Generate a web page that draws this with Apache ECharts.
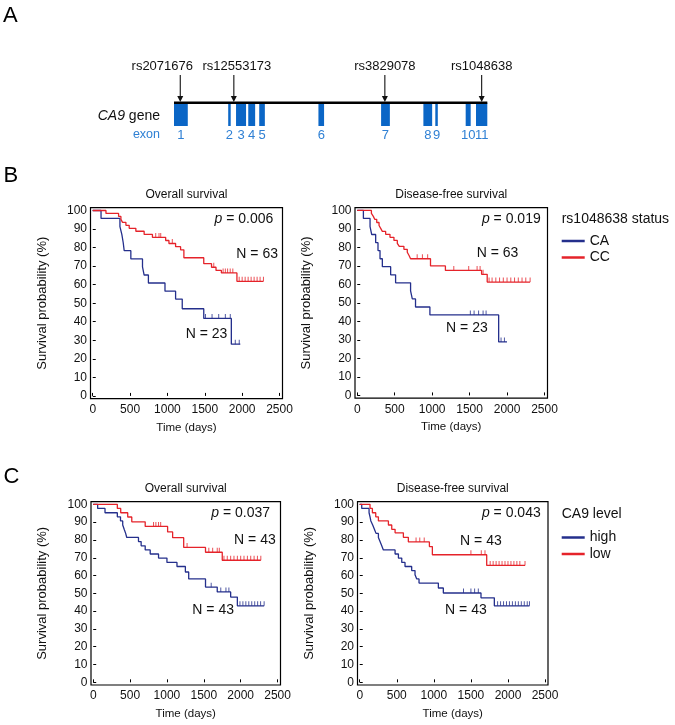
<!DOCTYPE html>
<html><head><meta charset="utf-8">
<script src="https://cdn.jsdelivr.net/npm/echarts@6/dist/echarts.min.js"></script>
<style>html,body{margin:0;padding:0;background:#fff}#c{width:675px;height:725px}</style>
</head><body><div id="c"></div>
<script>
// ---------- Panel A data (gene coordinates, % of gene length) ----------
const exonStart = [0, 17.3, 19.8, 23.7, 27.2, 46.1, 66.1, 79.6, 83.4, 93.1, 96.4];
const exonEnd   = [4.4, 18.1, 23.0, 25.9, 29.0, 47.9, 68.9, 82.4, 84.2, 94.7, 100];
const exonLabels = ['1','2','3','4','5','6','7','8','9','10','11'];
const snpNames = ['rs2071676','rs12553173','rs3829078','rs1048638'];
const snpPos = [2.0, 19.1, 67.3, 98.2];

// ---------- Axis ticks ----------
const xTicks = [0, 500, 1000, 1500, 2000, 2500];
const yTicks = [0, 10, 20, 30, 40, 50, 60, 70, 80, 90, 100];

// ---------- Panel B: rs1048638 status ----------
const bOsCA = [[0,100],[111,95.7],[364,91.3],[390,87.0],[408,82.6],[421,78.3],[510,73.9],[666,69.6],[688,65.2],[745,60.9],[967,56.5],[1109,52.2],[1198,47.0],[1486,41.8],[1855,27.9],[1975,27.9]];
const bOsCAcens = [1509,1597,1686,1775,1841,1908,1961];
const bOsCC = [[0,100],[177,98.4],[346,96.8],[377,95.2],[399,93.6],[444,92.0],[488,90.4],[577,88.8],[688,87.1],[799,85.5],[976,83.8],[1020,82.2],[1109,80.5],[1176,78.8],[1220,74.5],[1486,71.3],[1590,69.4],[1650,67.7],[1722,66.3],[1930,61.8],[2285,61.8]];
const bOsCCcens = [843,887,910,1065,1620,1745,1775,1805,1840,1875,1960,2000,2040,2080,2120,2160,2200,2240,2285];

const bDfsCA = [[0,100],[82,95.7],[171,91.3],[193,87.0],[246,82.6],[277,78.3],[304,73.9],[335,69.6],[446,65.2],[512,60.9],[712,56.5],[735,52.2],[778,47.8],[970,43.5],[1888,28.9],[1999,28.9]];
const bDfsCAcens = [1510,1560,1620,1680,1720,1920,1965];
const bDfsCC = [[0,100],[189,98.4],[215,96.8],[233,95.2],[260,93.5],[291,91.9],[313,90.3],[335,88.7],[379,87.1],[437,85.5],[490,83.8],[535,82.2],[561,80.6],[623,79.0],[668,77.4],[690,75.8],[712,73.9],[978,70.0],[1177,67.6],[1660,65.5],[1735,61.3],[2308,61.3]];
const bDfsCCcens = [800,870,940,1289,1488,1600,1640,1680,1760,1800,1850,1900,1950,2000,2050,2100,2150,2200,2250,2308];

// ---------- Panel C: CA9 level ----------
const cOsHigh = [[0,100],[60,97.7],[160,95.3],[327,93.0],[370,90.7],[400,88.4],[420,86.0],[440,83.7],[455,81.4],[614,79.1],[650,76.7],[705,74.4],[773,72.1],[886,69.8],[1000,67.4],[1136,65.1],[1250,62.0],[1295,58.1],[1523,53.5],[1682,50.8],[1864,47.9],[1955,43.0],[2318,43.0]];
const cOsHighCens = [1600,1730,1800,1840,1990,2030,2070,2110,2150,2190,2230,2270,2318];
const cOsLow = [[0,100],[327,97.7],[373,95.3],[468,92.9],[523,90.2],[705,87.6],[1009,84.5],[1077,81.3],[1227,75.8],[1523,73.1],[1750,68.6],[2273,68.6]];
const cOsLowCens = [818,850,886,915,1273,1568,1620,1682,1710,1773,1818,1864,1909,1955,2000,2045,2091,2136,2182,2227,2273];

const cDfsHigh = [[0,100],[27,97.7],[126,95.3],[139,93.0],[150,90.7],[175,88.4],[198,86.0],[220,83.7],[252,81.4],[274,79.1],[297,76.7],[319,74.4],[477,72.1],[522,69.8],[567,67.4],[611,65.1],[701,62.8],[746,60.5],[769,58.1],[800,55.8],[1061,53.0],[1128,50.2],[1636,47.5],[1816,43.0],[2290,43.0]];
const cDfsHighCens = [1400,1500,1550,1600,1860,1900,1940,1980,2020,2060,2100,2140,2180,2220,2260,2290];
const cDfsLow = [[0,100],[139,97.7],[171,95.3],[216,93.0],[252,90.7],[387,88.4],[432,86.0],[477,84.0],[589,81.5],[656,78.9],[940,76.3],[980,71.7],[1713,65.7],[2230,65.7]];
const cDfsLowCens = [760,810,870,1500,1640,1690,1760,1800,1840,1880,1920,1960,2000,2040,2080,2120,2160,2230];

// ---------- styling ----------
const FF = '"Liberation Sans", Arial, Helvetica, sans-serif';
const BLUE = '#242f8c';
const RED = '#e5232a';
const EXON = '#0b66c6';
const EXON_TXT = '#2f80d4';

function survAt(curve, t) {
  let s = curve[0][1];
  for (const p of curve) { if (p[0] <= t) s = p[1]; else break; }
  return s;
}

const panels = [
  { grid: {left: 90.5, top: 207.7, width: 192, height: 191}, title: 'Overall survival',
    curves: [{name: 'CA', d: bOsCA, c: bOsCAcens, color: BLUE}, {name: 'CC', d: bOsCC, c: bOsCCcens, color: RED}] },
  { grid: {left: 355, top: 207.7, width: 192.5, height: 190.5}, title: 'Disease-free survival',
    curves: [{name: 'CA', d: bDfsCA, c: bDfsCAcens, color: BLUE}, {name: 'CC', d: bDfsCC, c: bDfsCCcens, color: RED}] },
  { grid: {left: 91, top: 501.7, width: 189.5, height: 183.3}, title: 'Overall survival',
    curves: [{name: 'high', d: cOsHigh, c: cOsHighCens, color: BLUE}, {name: 'low', d: cOsLow, c: cOsLowCens, color: RED}] },
  { grid: {left: 357.5, top: 501.7, width: 190.5, height: 183.3}, title: 'Disease-free survival',
    curves: [{name: 'high', d: cDfsHigh, c: cDfsHighCens, color: BLUE}, {name: 'low', d: cDfsLow, c: cDfsLowCens, color: RED}] }
];

const grids = [], xAxes = [], yAxes = [], series = [];
const graphics = [];

panels.forEach((p, i) => {
  grids.push(Object.assign({show: true, borderColor: '#000', borderWidth: 1.2, backgroundColor: 'transparent'}, p.grid));
  xAxes.push({
    gridIndex: i, type: 'value', min: -30, max: 2540,
    axisLine: {show: false}, splitLine: {show: false},
    axisTick: {show: true, inside: true, length: 3, customValues: xTicks, lineStyle: {color: '#000', width: 1}},
    axisLabel: {customValues: xTicks, formatter: v => String(v), fontSize: 12, fontFamily: FF, color: '#111', margin: 5},
    name: 'Time (days)', nameLocation: 'middle', nameGap: 23,
    nameTextStyle: {fontSize: 11.5, fontFamily: FF, color: '#111'}
  });
  yAxes.push({
    gridIndex: i, type: 'value', min: -1.5, max: 101.5,
    axisLine: {show: false}, splitLine: {show: false},
    axisTick: {show: true, inside: true, length: 3, customValues: yTicks, lineStyle: {color: '#000', width: 1}},
    axisLabel: {customValues: yTicks, formatter: v => String(v), fontSize: 12, fontFamily: FF, color: '#111', margin: 3.5},
    name: 'Survival probability (%)', nameLocation: 'middle', nameGap: 42, nameRotate: 90,
    nameTextStyle: {fontSize: 13, fontFamily: FF, color: '#111'}
  });
  p.curves.forEach(cv => {
    series.push({
      type: 'line', name: cv.name, xAxisIndex: i, yAxisIndex: i, step: 'end',
      data: cv.d, showSymbol: false, symbol: 'none', color: cv.color,
      lineStyle: {color: cv.color, width: 1.3}, itemStyle: {color: cv.color}, silent: true, z: 3
    });
    series.push({
      type: 'scatter', name: cv.name + ' censored', xAxisIndex: i, yAxisIndex: i,
      data: cv.c.map(t => [t, survAt(cv.d, t)]),
      symbol: 'rect', symbolSize: [1, 4.5], symbolOffset: [0, -2.2],
      itemStyle: {color: cv.color}, silent: true, z: 3
    });
  });
  const g = p.grid;
  graphics.push({type: 'text', x: g.left + g.width / 2, y: g.top - 13.4,
    style: {text: p.title, font: '12px ' + FF, fill: '#111', align: 'center', verticalAlign: 'middle'}});
});

// annotation texts (p-values, N)
function pText(val, x, y) {
  return {type: 'text', x: x, y: y, style: {
    text: '{i|p}{n| = ' + val + '}', align: 'right', verticalAlign: 'middle', font: '14px ' + FF, fill: '#111',
    rich: {i: {font: 'italic 14px ' + FF, fill: '#111'}, n: {font: '14px ' + FF, fill: '#111'}}
  }};
}
function nText(val, x, y) {
  return {type: 'text', x: x, y: y, style: {text: 'N = ' + val, align: 'right', verticalAlign: 'middle', font: '14px ' + FF, fill: '#111'}};
}
graphics.push(pText('0.006', 273.3, 219.3), nText(63, 278, 254), nText(23, 227.3, 334));
graphics.push(pText('0.019', 540.7, 219.3), nText(63, 518.3, 252.7), nText(23, 487.7, 328.3));
graphics.push(pText('0.037', 270, 513.3), nText(43, 275.7, 540), nText(43, 234, 610));
graphics.push(pText('0.043', 540.7, 513.3), nText(43, 501.7, 541), nText(43, 486.7, 610));

// panel letters
[['A', 3, 15.5], ['B', 3.5, 175.5], ['C', 3.5, 477]].forEach(l => {
  graphics.push({type: 'text', x: l[1], y: l[2], style: {text: l[0], font: '22px ' + FF, fill: '#000', align: 'left', verticalAlign: 'middle'}});
});

// legend titles
graphics.push({type: 'text', x: 561.7, y: 219.3, style: {text: 'rs1048638 status', font: '14px ' + FF, fill: '#111', align: 'left', verticalAlign: 'middle'}});
graphics.push({type: 'text', x: 561.7, y: 514.3, style: {text: 'CA9 level', font: '14px ' + FF, fill: '#111', align: 'left', verticalAlign: 'middle'}});

// panel A labels
graphics.push({type: 'text', x: 160, y: 116, style: {
  text: '{i|CA9}{n| gene}', align: 'right', verticalAlign: 'middle', font: '14px ' + FF, fill: '#111',
  rich: {i: {font: 'italic 14px ' + FF, fill: '#111'}, n: {font: '14px ' + FF, fill: '#111'}}}});
graphics.push({type: 'text', x: 160, y: 135, style: {text: 'exon', font: '12.5px ' + FF, fill: EXON_TXT, align: 'right', verticalAlign: 'middle'}});

// gene grid (index 4)
grids.push({left: 174, top: 60, width: 313.3, height: 80, show: false});
xAxes.push({gridIndex: 4, type: 'value', min: 0, max: 100, show: false});
yAxes.push({gridIndex: 4, type: 'value', min: 0, max: 1, show: false});

const GENE_Y = 102.7;
const snpLabelShift = [-18, 3, 0, 0];

series.push({
  type: 'custom', xAxisIndex: 4, yAxisIndex: 4, silent: true, z: 2,
  data: exonStart.map((s, i) => [s, 0, exonEnd[i], i]),
  renderItem: (params, api) => {
    const x0 = api.coord([api.value(0), 0])[0];
    const x1 = api.coord([api.value(2), 0])[0];
    const idx = api.value(3);
    return {type: 'group', children: [
      {type: 'rect', shape: {x: x0, y: GENE_Y, width: x1 - x0, height: 23.3}, style: {fill: EXON}},
      {type: 'text', x: (x0 + x1) / 2, y: 135.5, style: {text: exonLabels[idx], font: '13px ' + FF, fill: EXON_TXT, align: 'center', verticalAlign: 'middle'}}
    ]};
  }
});
series.push({
  type: 'custom', xAxisIndex: 4, yAxisIndex: 4, silent: true, z: 3,
  data: [[0, 0, 100]],
  renderItem: (params, api) => {
    const x0 = api.coord([api.value(0), 0])[0];
    const x1 = api.coord([api.value(2), 0])[0];
    return {type: 'line', shape: {x1: x0, y1: GENE_Y, x2: x1, y2: GENE_Y}, style: {stroke: '#000', lineWidth: 2.6}};
  }
});
series.push({
  type: 'custom', xAxisIndex: 4, yAxisIndex: 4, silent: true, z: 4,
  data: snpPos.map((s, i) => [s, 0, i]),
  renderItem: (params, api) => {
    const x = api.coord([api.value(0), 0])[0];
    const idx = api.value(2);
    return {type: 'group', children: [
      {type: 'line', shape: {x1: x, y1: 75, x2: x, y2: 97}, style: {stroke: '#111', lineWidth: 1.1}},
      {type: 'polygon', shape: {points: [[x - 3, 96], [x + 3, 96], [x, 102]]}, style: {fill: '#111'}},
      {type: 'text', x: x + snpLabelShift[idx], y: 66.7, style: {text: snpNames[idx], font: '13px ' + FF, fill: '#111', align: 'center', verticalAlign: 'middle'}}
    ]};
  }
});

const legendCommon = {
  orient: 'vertical', icon: 'rect', itemWidth: 23, itemHeight: 2.5, itemGap: 2.5, padding: 0,
  selectedMode: false, textStyle: {fontSize: 14, fontFamily: FF, color: '#111', lineHeight: 14}
};

const chart = echarts.init(document.getElementById('c'));
chart.setOption({
  animation: false,
  backgroundColor: '#fff',
  grid: grids,
  xAxis: xAxes,
  yAxis: yAxes,
  legend: [
    Object.assign({data: ['CA', 'CC'], left: 561.7, top: 234}, legendCommon),
    Object.assign({data: ['high', 'low'], left: 561.7, top: 530.5}, legendCommon)
  ],
  series: series,
  graphic: {elements: graphics}
});
</script>
</body></html>
